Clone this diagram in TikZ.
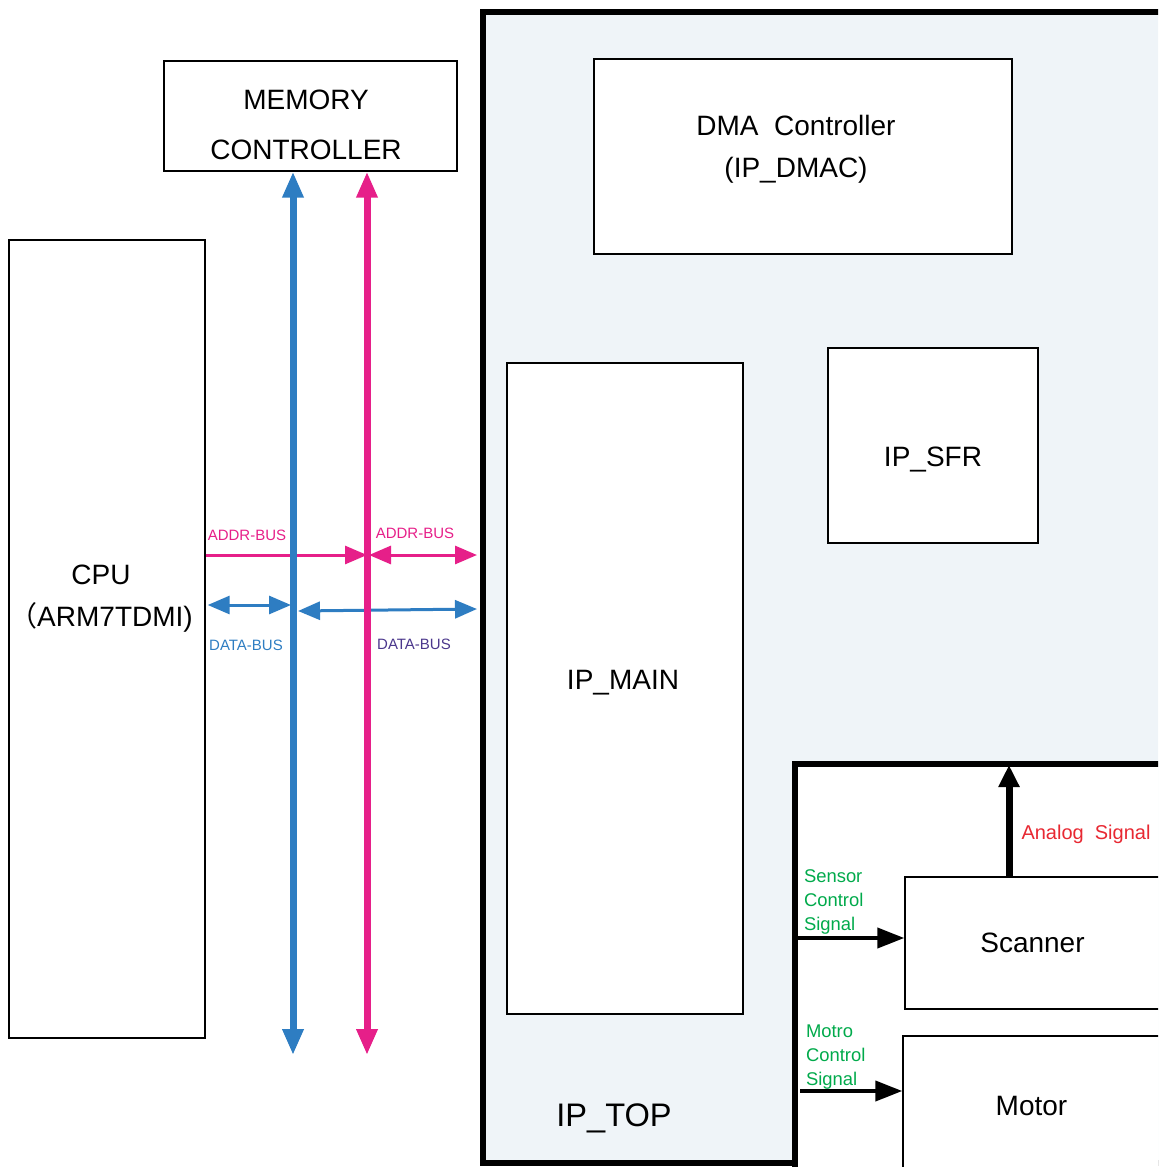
\documentclass[tikz,border=0pt]{standalone}
\usepackage{fontspec}
\setmainfont{Liberation Sans}
\newfontfamily\cjk{Noto Sans CJK SC}
\usetikzlibrary{arrows.meta,fit}

\definecolor{busblue}{RGB}{46,125,194}
\definecolor{buspink}{RGB}{230,31,137}
\definecolor{buspurple}{RGB}{75,55,140}
\definecolor{sigGreen}{RGB}{0,170,75}
\definecolor{sigRed}{RGB}{232,40,50}
\definecolor{topFill}{RGB}{239,244,248}

\tikzset{
  box/.style={draw, line width=0.7pt, fill=white, inner sep=0pt},
  topbox/.style={draw, line width=2.6pt, inner sep=0pt},
  txt/.style={font=\fontsize{14}{21}\selectfont, align=center},
  buslbl/.style={font=\fontsize{7.5}{9}\selectfont},
  siglbl/.style={font=\fontsize{9.2}{12}\selectfont, align=left, anchor=west, text=sigGreen},
  bus/.style={line width=3.5pt, {Triangle[length=13pt,width=10pt]}-{Triangle[length=13pt,width=10pt]}},
  hbus/.style={line width=1.5pt},
  hhead/.style={-{Triangle[length=11pt,width=9pt]}},
  hboth/.style={{Triangle[length=11pt,width=9pt]}-{Triangle[length=11pt,width=9pt]}},
  sig/.style={line width=2pt, -{Triangle[length=13.5pt,width=10pt]}}
}

\begin{document}
\begin{tikzpicture}[x=0.5pt, y=-0.5pt]
  \useasboundingbox (0,0) rectangle (1158,1167);
  \clip (0,0) rectangle (1158,1167);

  \node[topbox, fill=topFill, fit={(483,12) (1180,1163)}] (top) {};
  \node[box, fit={(164,61) (457,171)}] (mem) {};
  \node[box, fit={(9,240) (205,1038)}] (cpu) {};
  \node[box, fit={(594,59) (1012,254)}] (dmac) {};
  \node[box, fit={(828,348) (1038,543)}] (sfr) {};
  \node[box, fit={(507,363) (743,1014)}] (main) {};
  \node[topbox, fill=white, fit={(795,764) (1180,1185)}] (sub) {};
  \node[box, fit={(905,877) (1160,1009)}] (scan) {};
  \node[box, fit={(903,1036) (1160,1175)}] (mot) {};

  \node[txt, font=\fontsize{14}{25}\selectfont] (memtxt) at (306,125) {MEMORY\\CONTROLLER};
  \node[txt] (cputxt) at (101,599) {CPU\\{\cjk （}ARM7TDMI)};
  \node[txt] (dmactxt) at (796,149) {DMA\ \ Controller\\(IP\_DMAC)};
  \node[txt] at (sfr.center) [yshift=-7pt] {IP\_SFR};
  \node[txt] at (623,683) {IP\_MAIN};
  \node[txt] at (scan.center) {Scanner};
  \node[txt] at (mot.center) {Motor};
  \node[font=\fontsize{16.3}{20}\selectfont] (toptxt) at (614,1118) {IP\_TOP};

  \coordinate (bbot) at (293,1055);
  \coordinate (pbot) at (367,1055);
  \coordinate (ax) at (367,555);
  \coordinate (ar) at (477,555);
  \coordinate (dl) at (291,605);
  \coordinate (dx) at (298,611);
  \coordinate (dr) at (477,609);
  \coordinate (an) at (1009,765);
  \coordinate (sc) at (797,938);
  \coordinate (mc) at (800,1091);

  \draw[hbus, hhead, buspink] (cpu.east |- ax) -- (ax);
  \draw[hbus, hboth, buspink] ([xshift=1pt]ax) -- (ar);
  \draw[hbus, hboth, busblue] ([xshift=1pt]cpu.east |- dl) -- (dl);
  \draw[hbus, hboth, busblue] (dx) -- (dr);
  \draw[bus, busblue] (mem.south -| bbot) -- (bbot);
  \draw[bus, buspink] (mem.south -| pbot) -- (pbot);

  \node[buslbl, text=buspink] at (247,535) {ADDR-BUS};
  \node[buslbl, text=buspink] at (415,533) {ADDR-BUS};
  \node[buslbl, text=busblue] at (246,645) {DATA-BUS};
  \node[buslbl, text=buspurple] at (414,644) {DATA-BUS};

  \draw[line width=3.5pt, -{Triangle[length=11pt,width=10pt]}] (an |- scan.north) -- (an);
  \draw[sig] (sc) -- (sc -| scan.west);
  \draw[sig] (mc) -- (mc -| mot.west);

  \node[font=\fontsize{10}{12}\selectfont, text=sigRed] at (1086,834) {Analog\ \ Signal};
  \node[siglbl] at (797,902) {Sensor\\Control\\Signal};
  \node[siglbl] at (799,1057) {Motro\\Control\\Signal};
\end{tikzpicture}
\end{document}
